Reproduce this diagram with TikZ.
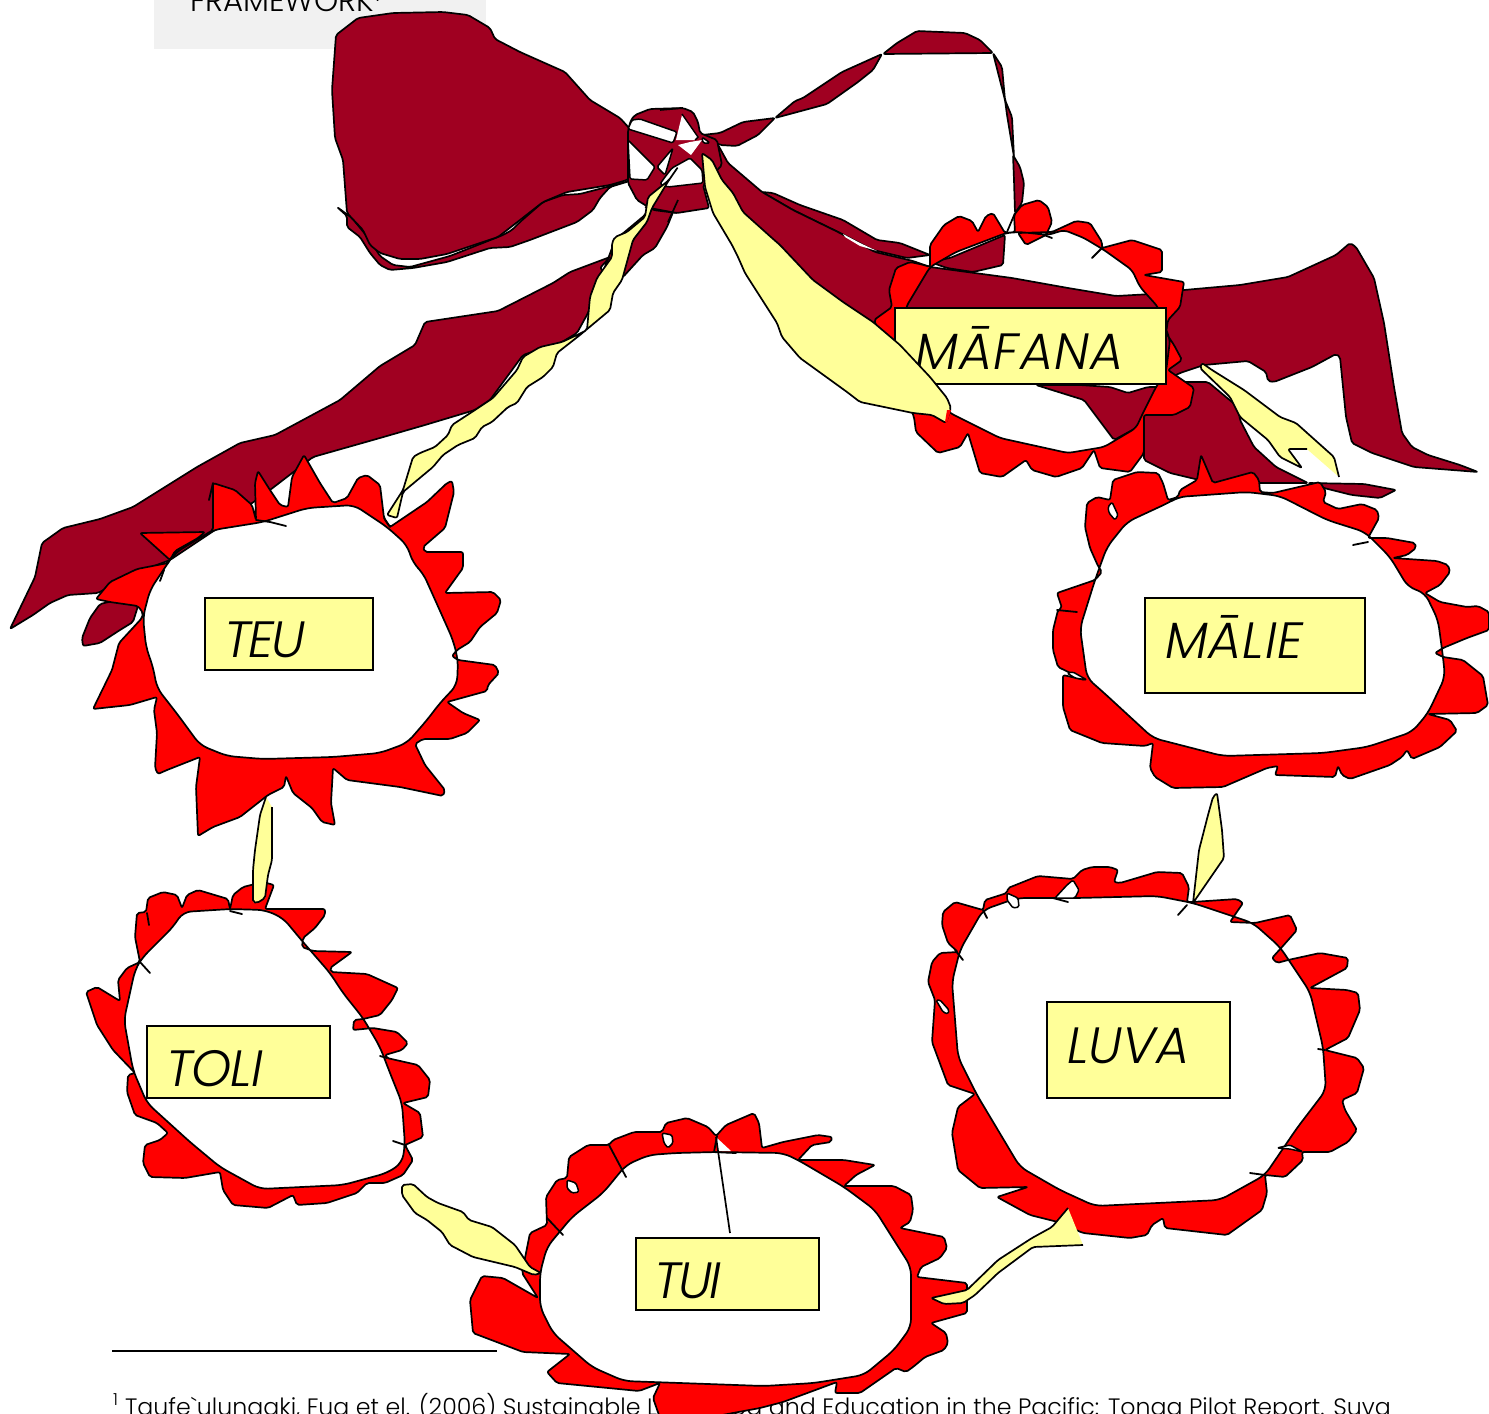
\documentclass[tikz,border=0pt]{standalone}
\usepackage{fontspec}
\setmainfont{Poppins}[UprightFont=* Light,ItalicFont=* Light Italic]
\newfontfamily\plainfont{Poppins}[UprightFont=* Light]
\definecolor{maroon}{HTML}{A00021}
\definecolor{leaf}{HTML}{FFFF99}
\definecolor{graybox}{HTML}{F1F1F1}
\tikzset{
  rib/.style={fill=maroon,draw=black,line width=1.7pt,line join=round,rounded corners=2pt},
  ring/.style={fill=red,draw=black,line width=1.7pt,line join=round,even odd rule},
  petal/.style={fill=red,draw=black,line width=1.7pt,line join=round,rounded corners=2pt},
  leaffill/.style={fill=leaf,draw=black,line width=1.7pt,line join=round,rounded corners=2pt},
  leafonly/.style={fill=leaf,draw=none},
  leafline/.style={draw=black,line width=1.7pt,line join=round,rounded corners=2pt},
  gap/.style={fill=white,draw=black,line width=1.5pt,line join=round,rounded corners=1.5pt},
  gapnoline/.style={fill=white,draw=none},
  tick/.style={draw=black,line width=1.8pt,line cap=round},
  labelbox/.style={draw=black,fill=leaf,line width=1.7pt,rectangle,inner sep=0pt,outer sep=0pt,anchor=north west},
  labeltext/.style={anchor=base west,inner sep=0pt,font=\fontsize{51}{51}\selectfont\itshape}
}
\begin{document}
\begin{tikzpicture}[x=1pt,y=-1pt]
\useasboundingbox (0,0) rectangle (1489,1414);
\clip (0,0) rectangle (1489,1414);
\fill[white] (0,0) rectangle (1489,1414);
% page remnants
\fill[graybox] (154,0) rectangle (486,49);
\node[anchor=base west,inner sep=0pt,font=\fontsize{30.8}{30.8}\selectfont] (heading) at (190,11) {FRAMEWORK\textsuperscript{1}};
\coordinate (ruleA) at (112,1351); \coordinate (ruleB) at (497,1351);
\draw[line width=1.7pt] (ruleA) -- (ruleB);
\node[anchor=base west,inner sep=0pt,font=\plainfont\fontsize{23.7}{23.7}\selectfont] (foot) at (113,1415) {\textsuperscript{1} Taufe\char"60 ulunagki, Fua et el. (2006) Sustainable Livelihood and Education in the Pacific: Tonga Pilot Report. Suva};

% left streamer behind the loop
\path[rib] (337,207)--(347,216)--(347,227)--(360,237)--(370,253)--(380,265)--(390,270)--(413,268)--(447,262)--(490,248)--(510,247)--(530,240)--(577,222)--(593,210)--(600,198)--(610,187)--(633,180)--(603,188)--(580,194)--(563,195)--(543,202)--(520,222)--(512,230)--(503,235)--(498,237)--(450,256)--(410,267)--(393,265)--(380,256)--(370,240)--(352,218)--cycle;
% left loop
\path[rib] (336,35)--(358,18)--(393,13)--(443,12)--(468,15)--(490,28)--(495,39)--(520,52)--(565,72)--(590,100)--(620,118)--(640,140)--(640,170)--(627,180)--(610,185)--(567,192)--(543,202)--(520,220)--(498,237)--(480,243)--(447,254)--(420,259)--(400,259)--(380,253)--(370,245)--(363,230)--(347,213)--(343,160)--(335,138)--(332,90)--cycle;
% long streamer to lower left
\path[rib] (678,200)--(667,227)--(655,248)--(643,255)--(623,277)--(612,280)--(600,268)--(610,257)--(570,272)--(553,283)--(498,311)--(425,322)--(415,345)--(380,366)--(340,400)--(275,435)--(240,443)--(197,467)--(157,492)--(133,507)--(100,519)--(63,528)--(42,543)--(35,577)--(10,629)--(33,615)--(50,603)--(68,595)--(98,593)--(130,575)--(170,560)--(215,530)--(270,490)--(313,457)--(380,438)--(425,425)--(475,410)--(490,400)--(523,355)--(562,342)--(577,333)--(588,313)--(615,240)--(645,215)--(655,195)--cycle;
\path[rib] (138,606)--(133,622)--(120,630)--(100,643)--(83,646)--(82,638)--(90,618)--(100,604)--(113,601)--cycle;
% right bow loop, twisted
\path[rib] (702,135)--(720,133)--(743,122)--(775,118)--(758,135)--(737,146)--(720,145)--cycle;
\path[rib] (775,118)--(795,101)--(803,98)--(842,72)--(882,54)--(873,70)--(858,82)--(827,104)--cycle;
\path[rib] (883,54)--(897,43)--(917,31)--(965,33)--(980,40)--(993,53)--cycle;
\path[rib] (993,53)--(1002,67)--(1005,100)--(1012,117)--(1014,157)--(1007,115)--(1005,100)--cycle;
\path[rib] (1013,155)--(1020,167)--(1024,183)--(1022,203)--(1015,213)--(1014,180)--cycle;
\draw[line width=1.7pt] (1015,213)--(1007,232);
\path[rib] (1005,235)--(1003,265)--(973,272)--(947,268)--(930,262)--(950,258)--cycle;
\path[rib] (762,192)--(773,193)--(800,205)--(843,220)--(877,240)--(900,243)--(930,255)--(907,258)--(873,250)--(838,232)--(793,210)--cycle;
% right long ribbon
\path[rib] (700,140)--(717,143)--(728,163)--(762,192)--(793,210)--(838,232)--(875,252)--(913,261)--(930,267)--(1012,278)--(1068,288)--(1116,296)--(1152,294)--(1184,290)--(1240,285)--(1288,277)--(1336,255)--(1350,243)--(1356,247)--(1374,278)--(1384,323)--(1394,387)--(1402,433)--(1412,447)--(1428,455)--(1460,465)--(1478,472)--(1414,467)--(1372,453)--(1352,443)--(1346,417)--(1340,357)--(1336,354)--(1312,367)--(1274,382)--(1268,381)--(1266,372)--(1248,361)--(1204,365)--(1180,373)--(1166,380)--(1000,384)--(895,384)--(880,350)--(780,280)--(730,210)--(702,155)--cycle;
\path[rib] (1036,385)--(1084,400)--(1114,440)--(1136,428)--(1144,417)--(1144,460)--(1170,473)--(1212,483)--(1260,483)--(1308,483)--(1276,467)--(1254,447)--(1240,420)--(1238,407)--(1208,382)--(1180,382)--(1156,387)--(1148,387)--(1128,393)--(1110,387)--(1080,385)--cycle;
\path[rib] (1308,483)--(1364,484)--(1396,490)--(1380,498)--(1352,495)--(1324,488)--cycle;
\fill[white] (843,234)--(860,243)--(877,251)--(860,246)--(845,237)--cycle;

% knot
\path[rib] (631,120)--(635,115)--(650,109)--(683,108)--(693,112)--(698,122)--(700,133)--(717,140)--(722,165)--(703,185)--(709,208)--(677,213)--(653,210)--(637,200)--(628,183)--(628,130)--cycle;
\path[gap] (632,120)--(640,119)--(677,132)--(673,143)--(628,129)--cycle;
\path[gapnoline] (682,115)--(698,137)--(695,140)--(676,140)--cycle;
\draw[line width=1.4pt] (682,114)--(698,137)--(695,140);
\path[gap] (628,140)--(655,167)--(647,180)--(630,179)--cycle;
\path[gap] (665,177)--(672,168)--(690,158)--(702,170)--(703,183)--(668,187)--(660,184)--cycle;
\path[gap] (657,167)--(673,148)--(665,175)--cycle;
\path[gapnoline] (678,145)--(690,142)--(702,140)--(691,155)--cycle;
\path[gap] (702,137)--(710,143)--(703,143)--cycle;
\draw[line width=1.5pt] (645,207)--(677,213);
\draw[line width=1.7pt] (678,200)--(668,222);
\draw[line width=1.7pt] (660,110)--(683,108);

% TEU wreath
\path[petal] (140,533)--(205,532)--(198,538)--(175,551)--(170,560)--cycle;
\path[ring] [rounded corners=2pt] (168,563)--(175,553)--(213,530)--(213,483)--(235,490)--(252,505)--(256,520)--(255,483)--(258,471)--(270,490)--(280,505)--(288,507)--(292,477)--(304,455)--(320,483)--(333,503)--(347,498)--(358,478)--(367,475)--(380,485)--(384,518)--(390,527)--(427,502)--(447,483)--(452,481)--(454,492)--(445,528)--(423,547)--(425,552)--(463,552)--(463,568)--(445,593)--(493,592)--(501,600)--(497,613)--(480,627)--(470,642)--(457,650)--(452,656)--(458,660)--(495,665)--(499,673)--(488,685)--(487,691)--(447,702)--(463,713)--(480,720)--(467,733)--(450,739)--(423,739)--(415,744)--(425,765)--(445,790)--(443,796)--(400,787)--(347,780)--(333,768)--(331,803)--(335,825)--(322,822)--(312,808)--(293,793)--(286,776)--(284,787)--(268,795)--(240,817)--(213,827)--(198,836)--(196,787)--(200,757)--(167,770)--(158,774)--(155,768)--(157,733)--(154,710)--(157,697)--(130,705)--(93,709)--(112,670)--(119,643)--(142,618)--(143,613)--(138,606)--(110,602)--(96,599)--(110,582)--(137,569)--cycle
 [rounded corners=8pt] (168,563)--(175,553)--(213,530)--(263,522)--(307,508)--(354,505)--(387,527)--(407,545)--(413,563)--(423,573)--(432,593)--(453,640)--(458,660)--(457,685)--(440,703)--(427,720)--(407,743)--(380,753)--(333,757)--(263,759)--(227,756)--(200,745)--(178,715)--(157,688)--(153,667)--(146,647)--(143,617)--(150,590)--cycle;
\draw[tick] (256,520)--(270,522)--(286,526);
\draw[tick] (213,483)--(209,500);
\draw[tick] (384,518)--(390,527);
\draw[tick] (160,581)--(164,570);

% MAFANA wreath
\path[ring] [rounded corners=2pt] (930,267)--(930,245)--(944,225)--(959,216)--(972,221)--(978,232)--(986,216)--(993,213)--(1005,233)--(1015,232)--(1014,215)--(1022,205)--(1039,200)--(1048,207)--(1052,222)--(1046,235)--(1026,245)--(1018,233)--(1052,232)--(1076,221)--(1090,223)--(1102,242)--(1102,248)--(1132,240)--(1162,250)--(1162,272)--(1144,275)--(1184,282)--(1180,307)--(1168,320)--(1166,333)--(1174,345)--(1182,360)--(1168,370)--(1194,388)--(1190,407)--(1174,415)--(1144,415)--(1144,453)--(1130,472)--(1100,468)--(1094,450)--(1082,468)--(1056,477)--(1032,470)--(1026,460)--(1002,477)--(980,473)--(968,433)--(960,447)--(938,453)--(916,432)--(914,417)--(874,320)--(892,307)--(889,290)--(896,268)--(910,262)--(924,265)--cycle
 [rounded corners=5pt] (930,267)--(906,307)--(900,370)--(950,413)--(1000,438)--(1068,453)--(1104,447)--(1136,428)--(1142,415)--(1156,387)--(1166,372)--(1170,340)--(1158,307)--(1140,287)--(1132,270)--(1104,250)--(1084,238)--(1064,230)--(1048,235)--(1020,232)--(1006,233)--(956,252)--cycle;
\draw[tick] (1092,258)--(1102,248);
\draw[tick] (1044,235)--(1052,238);

% MALIE wreath
\path[ring] [rounded corners=2pt] (1178,497)--(1180,490)--(1197,480)--(1201,455)--(1213,483)--(1253,472)--(1259,480)--(1260,492)--(1273,493)--(1320,482)--(1326,492)--(1323,502)--(1338,509)--(1362,504)--(1377,510)--(1379,518)--(1368,538)--(1387,538)--(1415,543)--(1416,548)--(1407,555)--(1393,558)--(1437,561)--(1448,565)--(1450,572)--(1440,585)--(1425,593)--(1440,602)--(1467,607)--(1478,606)--(1489,612)--(1489,630)--(1467,638)--(1443,648)--(1435,653)--(1443,657)--(1463,660)--(1483,676)--(1488,705)--(1477,713)--(1428,714)--(1450,720)--(1457,731)--(1440,747)--(1412,759)--(1407,750)--(1402,757)--(1390,765)--(1350,779)--(1342,775)--(1338,766)--(1335,777)--(1275,775)--(1278,766)--(1267,768)--(1223,787)--(1173,788)--(1155,777)--(1150,768)--(1153,743)--(1145,746)--(1102,743)--(1070,730)--(1063,707)--(1063,675)--(1085,680)--(1058,667)--(1053,650)--(1053,630)--(1058,610)--(1062,608)--(1057,593)--(1095,580)--(1102,572)--(1098,566)--(1090,548)--(1085,527)--(1087,503)--(1097,497)--(1110,500)--(1113,480)--(1137,472)--(1158,473)--(1163,483)--(1168,500)--cycle
 [rounded corners=8pt] (1178,497)--(1247,492)--(1280,496)--(1327,520)--(1365,532)--(1390,557)--(1408,587)--(1425,593)--(1438,620)--(1443,657)--(1445,677)--(1428,713)--(1412,732)--(1367,747)--(1323,753)--(1223,756)--(1153,738)--(1103,692)--(1087,678)--(1080,628)--(1095,580)--(1107,547)--(1127,522)--(1170,502)--cycle;
\path[gap] (1108,507)--(1112,502)--(1118,515)--(1115,520)--(1109,513)--cycle;
\path[gap] (1067,673)--(1073,672)--(1087,680)--(1075,678)--cycle;
\draw[tick] (1353,545)--(1368,542);
\draw[tick] (1057,610)--(1077,612);

% TOLI wreath
\path[ring] [rounded corners=2pt] (230,909)--(233,895)--(243,887)--(263,882)--(274,885)--(265,909)--(325,909)--(325,915)--(315,928)--(303,938)--(302,947)--(313,951)--(352,952)--(330,968)--(331,972)--(367,974)--(398,988)--(392,1000)--(380,1015)--(363,1019)--(354,1020)--(353,1030)--(373,1028)--(397,1032)--(408,1043)--(402,1050)--(385,1055)--(387,1058)--(418,1065)--(430,1080)--(428,1097)--(403,1103)--(420,1113)--(423,1137)--(405,1145)--(413,1160)--(403,1175)--(385,1183)--(367,1183)--(357,1193)--(327,1203)--(297,1205)--(293,1195)--(268,1208)--(233,1205)--(223,1190)--(220,1172)--(185,1178)--(150,1177)--(143,1163)--(145,1145)--(160,1140)--(168,1133)--(157,1123)--(135,1115)--(127,1092)--(128,1075)--(135,1073)--(113,1050)--(97,1025)--(86,992)--(97,987)--(120,1001)--(118,980)--(127,968)--(140,962)--(135,937)--(137,913)--(146,912)--(148,898)--(163,892)--(177,895)--(182,908)--(187,895)--(198,890)--(228,899)--cycle
 [rounded corners=8pt] (230,909)--(265,910)--(283,918)--(303,942)--(330,973)--(343,993)--(363,1018)--(380,1047)--(390,1073)--(402,1103)--(405,1145)--(402,1163)--(387,1173)--(343,1185)--(260,1189)--(220,1167)--(190,1142)--(147,1103)--(133,1070)--(124,1020)--(135,970)--(142,958)--(173,927)--(183,912)--cycle;
\draw[tick] (147,913)--(149,925);
\draw[tick] (140,962)--(150,973);
\draw[tick] (230,911)--(242,914);
\draw[tick] (380,1056)--(387,1058);
\draw[tick] (393,1141)--(405,1145);

% LUVA wreath
\path[ring] [rounded corners=2pt] (1187,902)--(1189,887)--(1182,873)--(1157,872)--(1120,883)--(1114,882)--(1118,870)--(1110,867)--(1092,867)--(1082,870)--(1073,879)--(1038,876)--(1008,888)--(1007,893)--(985,900)--(983,910)--(955,902)--(943,912)--(942,925)--(948,943)--(958,952)--(940,953)--(932,962)--(928,982)--(935,1000)--(932,1042)--(948,1085)--(975,1094)--(958,1107)--(952,1133)--(958,1170)--(980,1188)--(1028,1187)--(997,1197)--(1030,1215)--(1058,1222)--(1083,1233)--(1130,1238)--(1147,1235)--(1152,1225)--(1163,1218)--(1165,1228)--(1227,1235)--(1262,1210)--(1267,1193)--(1265,1175)--(1285,1177)--(1303,1160)--(1302,1152)--(1330,1152)--(1348,1142)--(1357,1130)--(1345,1110)--(1342,1100)--(1357,1093)--(1364,1068)--(1357,1058)--(1325,1050)--(1348,1038)--(1360,1010)--(1358,993)--(1347,990)--(1310,988)--(1347,968)--(1348,958)--(1320,953)--(1288,960)--(1277,963)--(1272,958)--(1282,947)--(1297,930)--(1290,915)--(1255,923)--(1230,922)--(1243,903)--(1237,899)--(1192,902)--cycle
 [rounded corners=8pt] (983,910)--(1017,898)--(1077,898)--(1157,896)--(1193,903)--(1253,923)--(1280,947)--(1310,992)--(1323,1047)--(1326,1090)--(1297,1128)--(1265,1175)--(1220,1200)--(1095,1206)--(1060,1190)--(1020,1167)--(977,1095)--(958,1057)--(952,982)--(960,950)--cycle;
\path[gap] (936,1000)--(940,1000)--(949,1010)--(948,1014)--(943,1012)--cycle;
\path[gap] (1055,898)--(1067,885)--(1073,880)--(1079,890)--(1075,898)--cycle;
\path[gap] (1007,893)--(1018,898)--(1019,907)--(1013,908)--(1007,900)--cycle;
\path[gap] (1277,1148)--(1290,1145)--(1303,1152)--(1290,1149)--cycle;
\draw[tick] (1178,915)--(1187,905);
\draw[tick] (1250,1173)--(1265,1175);
\draw[tick] (1318,1049)--(1325,1050);
\draw[tick] (1053,898)--(1068,902);
\draw[tick] (983,910)--(987,918);
\draw[tick] (955,950)--(963,960);

% TUI wreath
\path[ring] [rounded corners=2pt] (716,1136)--(726,1125)--(754,1113)--(759,1123)--(762,1148)--(783,1142)--(818,1135)--(832,1137)--(831,1142)--(812,1145)--(798,1160)--(844,1160)--(875,1165)--(856,1175)--(844,1186)--(894,1186)--(911,1195)--(913,1210)--(910,1222)--(900,1228)--(944,1237)--(947,1248)--(940,1258)--(921,1267)--(917,1277)--(967,1283)--(967,1313)--(931,1323)--(946,1333)--(948,1343)--(944,1350)--(925,1357)--(913,1367)--(906,1372)--(896,1368)--(860,1393)--(835,1393)--(837,1382)--(783,1402)--(760,1408)--(706,1418)--(660,1418)--(653,1398)--(660,1383)--(639,1391)--(557,1383)--(547,1372)--(570,1354)--(523,1352)--(473,1333)--(470,1300)--(482,1276)--(503,1278)--(538,1298)--(522,1273)--(530,1233)--(547,1225)--(546,1197)--(557,1180)--(567,1178)--(569,1157)--(588,1145)--(609,1145)--(613,1140)--(634,1132)--(662,1132)--(666,1123)--(687,1118)--(708,1127)--cycle
 [rounded corners=8pt] (716,1152)--(783,1153)--(798,1160)--(844,1187)--(875,1210)--(892,1237)--(911,1267)--(911,1327)--(894,1350)--(864,1375)--(814,1383)--(764,1386)--(624,1381)--(592,1367)--(553,1333)--(540,1307)--(540,1273)--(547,1247)--(572,1217)--(603,1193)--(626,1165)--(649,1155)--(676,1153)--cycle;
\path[gap] (662,1133)--(672,1135)--(673,1143)--(668,1148)--(664,1143)--cycle;
\path[gap] (567,1180)--(576,1183)--(579,1192)--(572,1193)--(567,1188)--cycle;
\fill[white] (717,1138)--(731,1151)--(717,1151)--cycle;
\draw[tick] (609,1145)--(626,1177);
\draw[tick] (547,1218)--(563,1235);
\draw[tick] (713,1152)--(736,1153);
\draw[tick] (714,1152)--(717,1136);

% leaves
\path[leaffill] (678,167)--(669,180)--(648,197)--(645,217)--(627,232)--(615,237)--(612,243)--(612,257)--(597,278)--(590,297)--(587,330)--(577,335)--(562,342)--(540,347)--(523,357)--(517,370)--(493,398)--(475,410)--(452,425)--(448,435)--(435,447)--(420,453)--(413,457)--(403,490)--(387,515)--(397,518)--(403,492)--(433,467)--(443,455)--(458,445)--(475,438)--(482,427)--(492,422)--(508,407)--(517,403)--(527,387)--(543,377)--(553,367)--(557,353)--(580,335)--(610,310)--(613,293)--(622,280)--(633,240)--(647,222)--(652,208)--(669,180)--cycle;
\path[leafonly] (1202,363)--(1212,370)--(1244,390)--(1280,417)--(1296,423)--(1334,457)--(1339,477)--(1308,450)--(1288,449)--(1302,468)--(1280,457)--(1268,440)--(1240,417)--(1230,397)--(1200,368)--cycle;
\path[leafline] (1339,477)--(1334,457)--(1296,423)--(1280,417)--(1244,390)--(1212,370)--(1202,363)--(1200,368)--(1230,397)--(1240,417)--(1268,440)--(1280,457)--(1302,468)--(1288,449)--(1307,449);
\path[leafonly] (272,807)--(272,860)--(268,875)--(265,898)--(257,903)--(253,902)--(253,870)--(255,850)--(260,815)--(266,797)--cycle;
\path[leafline] (272,807)--(272,860)--(268,875)--(265,898)--(257,903)--(253,902)--(253,870)--(255,850)--(260,815)--(266,797);
\path[leaffill] (402,1185)--(413,1184)--(427,1197)--(438,1203)--(463,1212)--(469,1220)--(492,1227)--(515,1245)--(530,1267)--(541,1273)--(534,1275)--(515,1267)--(473,1257)--(450,1245)--(442,1232)--(427,1220)--(415,1213)--(402,1195)--cycle;
\path[leafonly] (1068,1208)--(1083,1245)--(1033,1247)--(998,1273)--(975,1295)--(963,1303)--(944,1304)--(931,1298)--(967,1290)--(998,1260)--(1032,1238)--(1052,1227)--cycle;
\path[leafline] (1068,1208)--(1052,1227)--(1032,1238)--(998,1260)--(967,1290)--(931,1298)--(944,1304)--(963,1303)--(975,1295)--(998,1273)--(1033,1247)--(1083,1245);
\path[leaffill] (1217,793)--(1222,830)--(1224,858)--(1193,903)--(1199,850)--(1208,815)--(1213,797)--cycle;

% connector inside TUI
\coordinate (tuiTop) at (716,1137); \coordinate (tuiEnd) at (730,1233);
\draw[line width=1.7pt] (tuiTop) -- (tuiEnd);

% labels
\node[labelbox,minimum width=271pt,minimum height=76pt] (mafana) at (895,308) {};
\node[labeltext] (mafanaT) at (915,369) {\addfontfeature{LetterSpace=2.3}MĀFANA};
\node[labelbox,minimum width=168pt,minimum height=72pt] (teu) at (205,598) {};
\node[labeltext] (teuT) at (224,657) {\addfontfeature{LetterSpace=-5}TEU};
\node[labelbox,minimum width=220pt,minimum height=95pt] (malie) at (1145,598) {};
\node[labeltext] (malieT) at (1165,658) {\addfontfeature{LetterSpace=1.5}MĀLIE};
\node[labelbox,minimum width=183pt,minimum height=96pt] (luva) at (1047,1002) {};
\node[labeltext] (luvaT) at (1067,1063) {LUVA};
\node[labelbox,minimum width=183pt,minimum height=72pt] (toli) at (147,1026) {};
\node[labeltext] (toliT) at (166,1086) {\addfontfeature{LetterSpace=-2}TOLI};
\node[labelbox,minimum width=183pt,minimum height=72pt] (tui) at (636,1238) {};
\node[labeltext] (tuiT) at (654,1298) {\addfontfeature{LetterSpace=-4.5}TUI};
% big leaf lies over the MAFANA box
\path[leaffill] (702,153)--(712,160)--(722,180)--(733,193)--(743,212)--(772,238)--(780,245)--(813,280)--(843,302)--(873,322)--(900,345)--(930,377)--(947,398)--(951,408)--(946,423)--(932,415)--(913,413)--(860,402)--(847,392)--(800,358)--(782,337)--(777,323)--(745,273)--(738,257)--(732,245)--(713,213)--(705,187)--cycle;
\fill[red] (947,410)--(951,410)--(947,423)--(945,422)--cycle;
\end{tikzpicture}
\end{document}
